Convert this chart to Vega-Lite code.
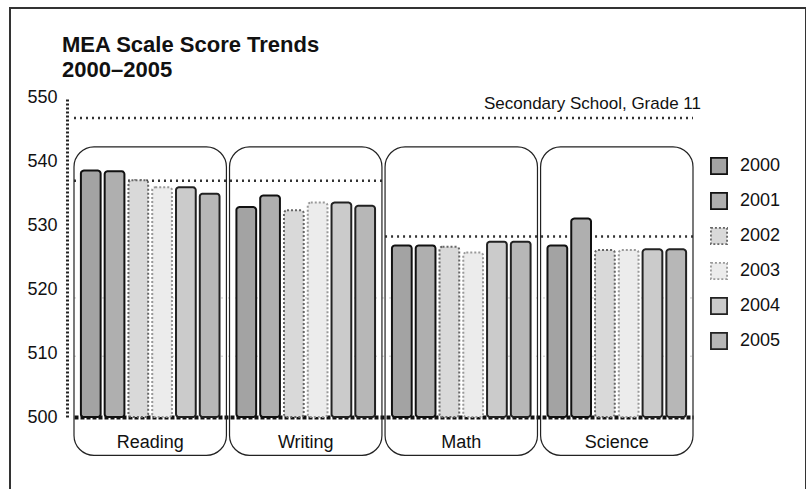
{
  "$schema": "https://vega.github.io/schema/vega-lite/v6.json",
  "width": 796,
  "height": 500,
  "autosize": {"type": "none"},
  "padding": {"left": 10, "top": 8, "right": 0, "bottom": 0},
  "background": "white",
  "config": {
    "font": "Liberation Sans",
    "view": {"stroke": "#333", "strokeWidth": 2}
  },
  "title": {
    "text": ["MEA Scale Score Trends", "2000–2005"],
    "anchor": "start",
    "frame": "group",
    "fontSize": 22,
    "fontWeight": "bold",
    "color": "#111",
    "dx": 52,
    "offset": -74,
    "lineHeight": 25
  },
  "datasets": {
    "scores": [
      {"subject": "Reading", "year": "2000", "score": 538.5},
      {"subject": "Reading", "year": "2001", "score": 538.4},
      {"subject": "Reading", "year": "2002", "score": 537.0},
      {"subject": "Reading", "year": "2003", "score": 535.9},
      {"subject": "Reading", "year": "2004", "score": 535.9},
      {"subject": "Reading", "year": "2005", "score": 534.9},
      {"subject": "Writing", "year": "2000", "score": 532.8},
      {"subject": "Writing", "year": "2001", "score": 534.6},
      {"subject": "Writing", "year": "2002", "score": 532.3},
      {"subject": "Writing", "year": "2003", "score": 533.5},
      {"subject": "Writing", "year": "2004", "score": 533.5},
      {"subject": "Writing", "year": "2005", "score": 533.0},
      {"subject": "Math", "year": "2000", "score": 526.8},
      {"subject": "Math", "year": "2001", "score": 526.8},
      {"subject": "Math", "year": "2002", "score": 526.6},
      {"subject": "Math", "year": "2003", "score": 525.7},
      {"subject": "Math", "year": "2004", "score": 527.4},
      {"subject": "Math", "year": "2005", "score": 527.4},
      {"subject": "Science", "year": "2000", "score": 526.8},
      {"subject": "Science", "year": "2001", "score": 531.0},
      {"subject": "Science", "year": "2002", "score": 526.1},
      {"subject": "Science", "year": "2003", "score": 526.1},
      {"subject": "Science", "year": "2004", "score": 526.2},
      {"subject": "Science", "year": "2005", "score": 526.2}
    ],
    "subjects": [
      {"subject": "Reading"},
      {"subject": "Writing"},
      {"subject": "Math"},
      {"subject": "Science"}
    ],
    "refs": [
      {"subject": "Reading", "subject_end": "Writing", "score": 536.9},
      {"subject": "Math", "subject_end": "Science", "score": 528.2},
      {"subject": "Reading", "subject_end": "Science", "score": 546.7}
    ],
    "faint": [
      {"subject": "Reading", "subject_end": "Science", "score": 518.6},
      {"subject": "Reading", "subject_end": "Science", "score": 509.5}
    ],
    "notes": [
      {"note": "Secondary School, Grade 11", "subject": "Science", "score": 548.9}
    ]
  },
  "layer": [
    {
      "data": {"name": "faint"},
      "mark": {"type": "rule", "strokeDash": [2, 5], "strokeWidth": 1, "color": "#c4c4c4"},
      "encoding": {
        "x": {"field": "subject", "type": "nominal", "bandPosition": 0},
        "x2": {"field": "subject_end", "bandPosition": 1},
        "y": {"field": "score", "type": "quantitative"}
      }
    },
    {
      "data": {"name": "refs"},
      "mark": {"type": "rule", "strokeDash": [2, 4], "strokeWidth": 2.5, "color": "#333"},
      "encoding": {
        "x": {"field": "subject", "type": "nominal", "bandPosition": 0},
        "x2": {"field": "subject_end", "bandPosition": 1},
        "y": {"field": "score", "type": "quantitative"}
      }
    },
    {
      "data": {"name": "subjects"},
      "mark": {"type": "bar", "fillOpacity": 0, "stroke": "#222", "strokeWidth": 1.2, "cornerRadius": 20},
      "encoding": {
        "x": {"field": "subject", "type": "nominal"},
        "y": {"datum": 542.2},
        "y2": {"datum": 494}
      }
    },
    {
      "data": {"name": "scores"},
      "mark": {"type": "bar", "cornerRadius": 3, "strokeWidth": 2},
      "encoding": {
        "x": {
          "field": "subject",
          "type": "nominal",
          "scale": {"domain": ["Reading", "Writing", "Math", "Science"], "range": [64, 683], "paddingInner": 0.02, "paddingOuter": 0},
          "axis": {
            "title": null,
            "orient": "bottom",
            "offset": -91,
            "bandPosition": 0.5,
            "ticks": false,
            "labelAngle": 0,
            "labelAlign": "center",
            "labelFontSize": 18,
            "labelPadding": 25,
            "labelColor": "#111",
            "domainColor": "#111",
            "domainWidth": 4,
            "domainDash": [4, 2],
            "grid": false
          }
        },
        "xOffset": {
          "field": "year",
          "type": "nominal",
          "scale": {"paddingInner": 0.17, "paddingOuter": 0.29}
        },
        "y": {
          "field": "score",
          "type": "quantitative",
          "scale": {"domain": [500, 550], "range": [409, 89], "nice": false, "zero": false},
          "axis": {
            "title": null,
            "values": [500, 510, 520, 530, 540, 550],
            "offset": -57,
            "ticks": false,
            "labelFontSize": 18,
            "labelPadding": 10,
            "labelColor": "#111",
            "domainColor": "#222",
            "domainWidth": 3,
            "domainDash": [2, 2],
            "grid": false
          }
        },
        "y2": {"datum": 500},
        "fill": {
          "field": "year",
          "type": "nominal",
          "scale": {
            "domain": ["2000", "2001", "2002", "2003", "2004", "2005"],
            "range": ["#a3a3a3", "#afafaf", "#d9d9d9", "#ececec", "#cbcbcb", "#b7b7b7"]
          },
          "legend": {
            "title": null,
            "orient": "none",
            "legendX": 700,
            "legendY": 149,
            "symbolType": "square",
            "symbolSize": 260,
            "symbolStrokeWidth": 1.8,
            "labelFontSize": 18,
            "labelColor": "#111",
            "rowPadding": 11,
            "labelOffset": 12,
            "padding": 0
          }
        },
        "stroke": {
          "field": "year",
          "type": "nominal",
          "scale": {
            "domain": ["2000", "2001", "2002", "2003", "2004", "2005"],
            "range": ["#111111", "#111111", "#666666", "#999999", "#222222", "#222222"]
          },
          "legend": null
        },
        "strokeDash": {
          "field": "year",
          "type": "nominal",
          "scale": {
            "domain": ["2000", "2001", "2002", "2003", "2004", "2005"],
            "range": [[1, 0], [1, 0], [2, 2], [2, 2], [1, 0], [1, 0]]
          },
          "legend": null
        }
      }
    },
    {
      "data": {"name": "notes"},
      "mark": {"type": "text", "align": "right", "baseline": "middle", "fontSize": 17, "dx": 8, "color": "#111"},
      "encoding": {
        "x": {"field": "subject", "type": "nominal", "bandPosition": 1},
        "y": {"field": "score", "type": "quantitative"},
        "text": {"field": "note", "type": "nominal"}
      }
    }
  ]
}
